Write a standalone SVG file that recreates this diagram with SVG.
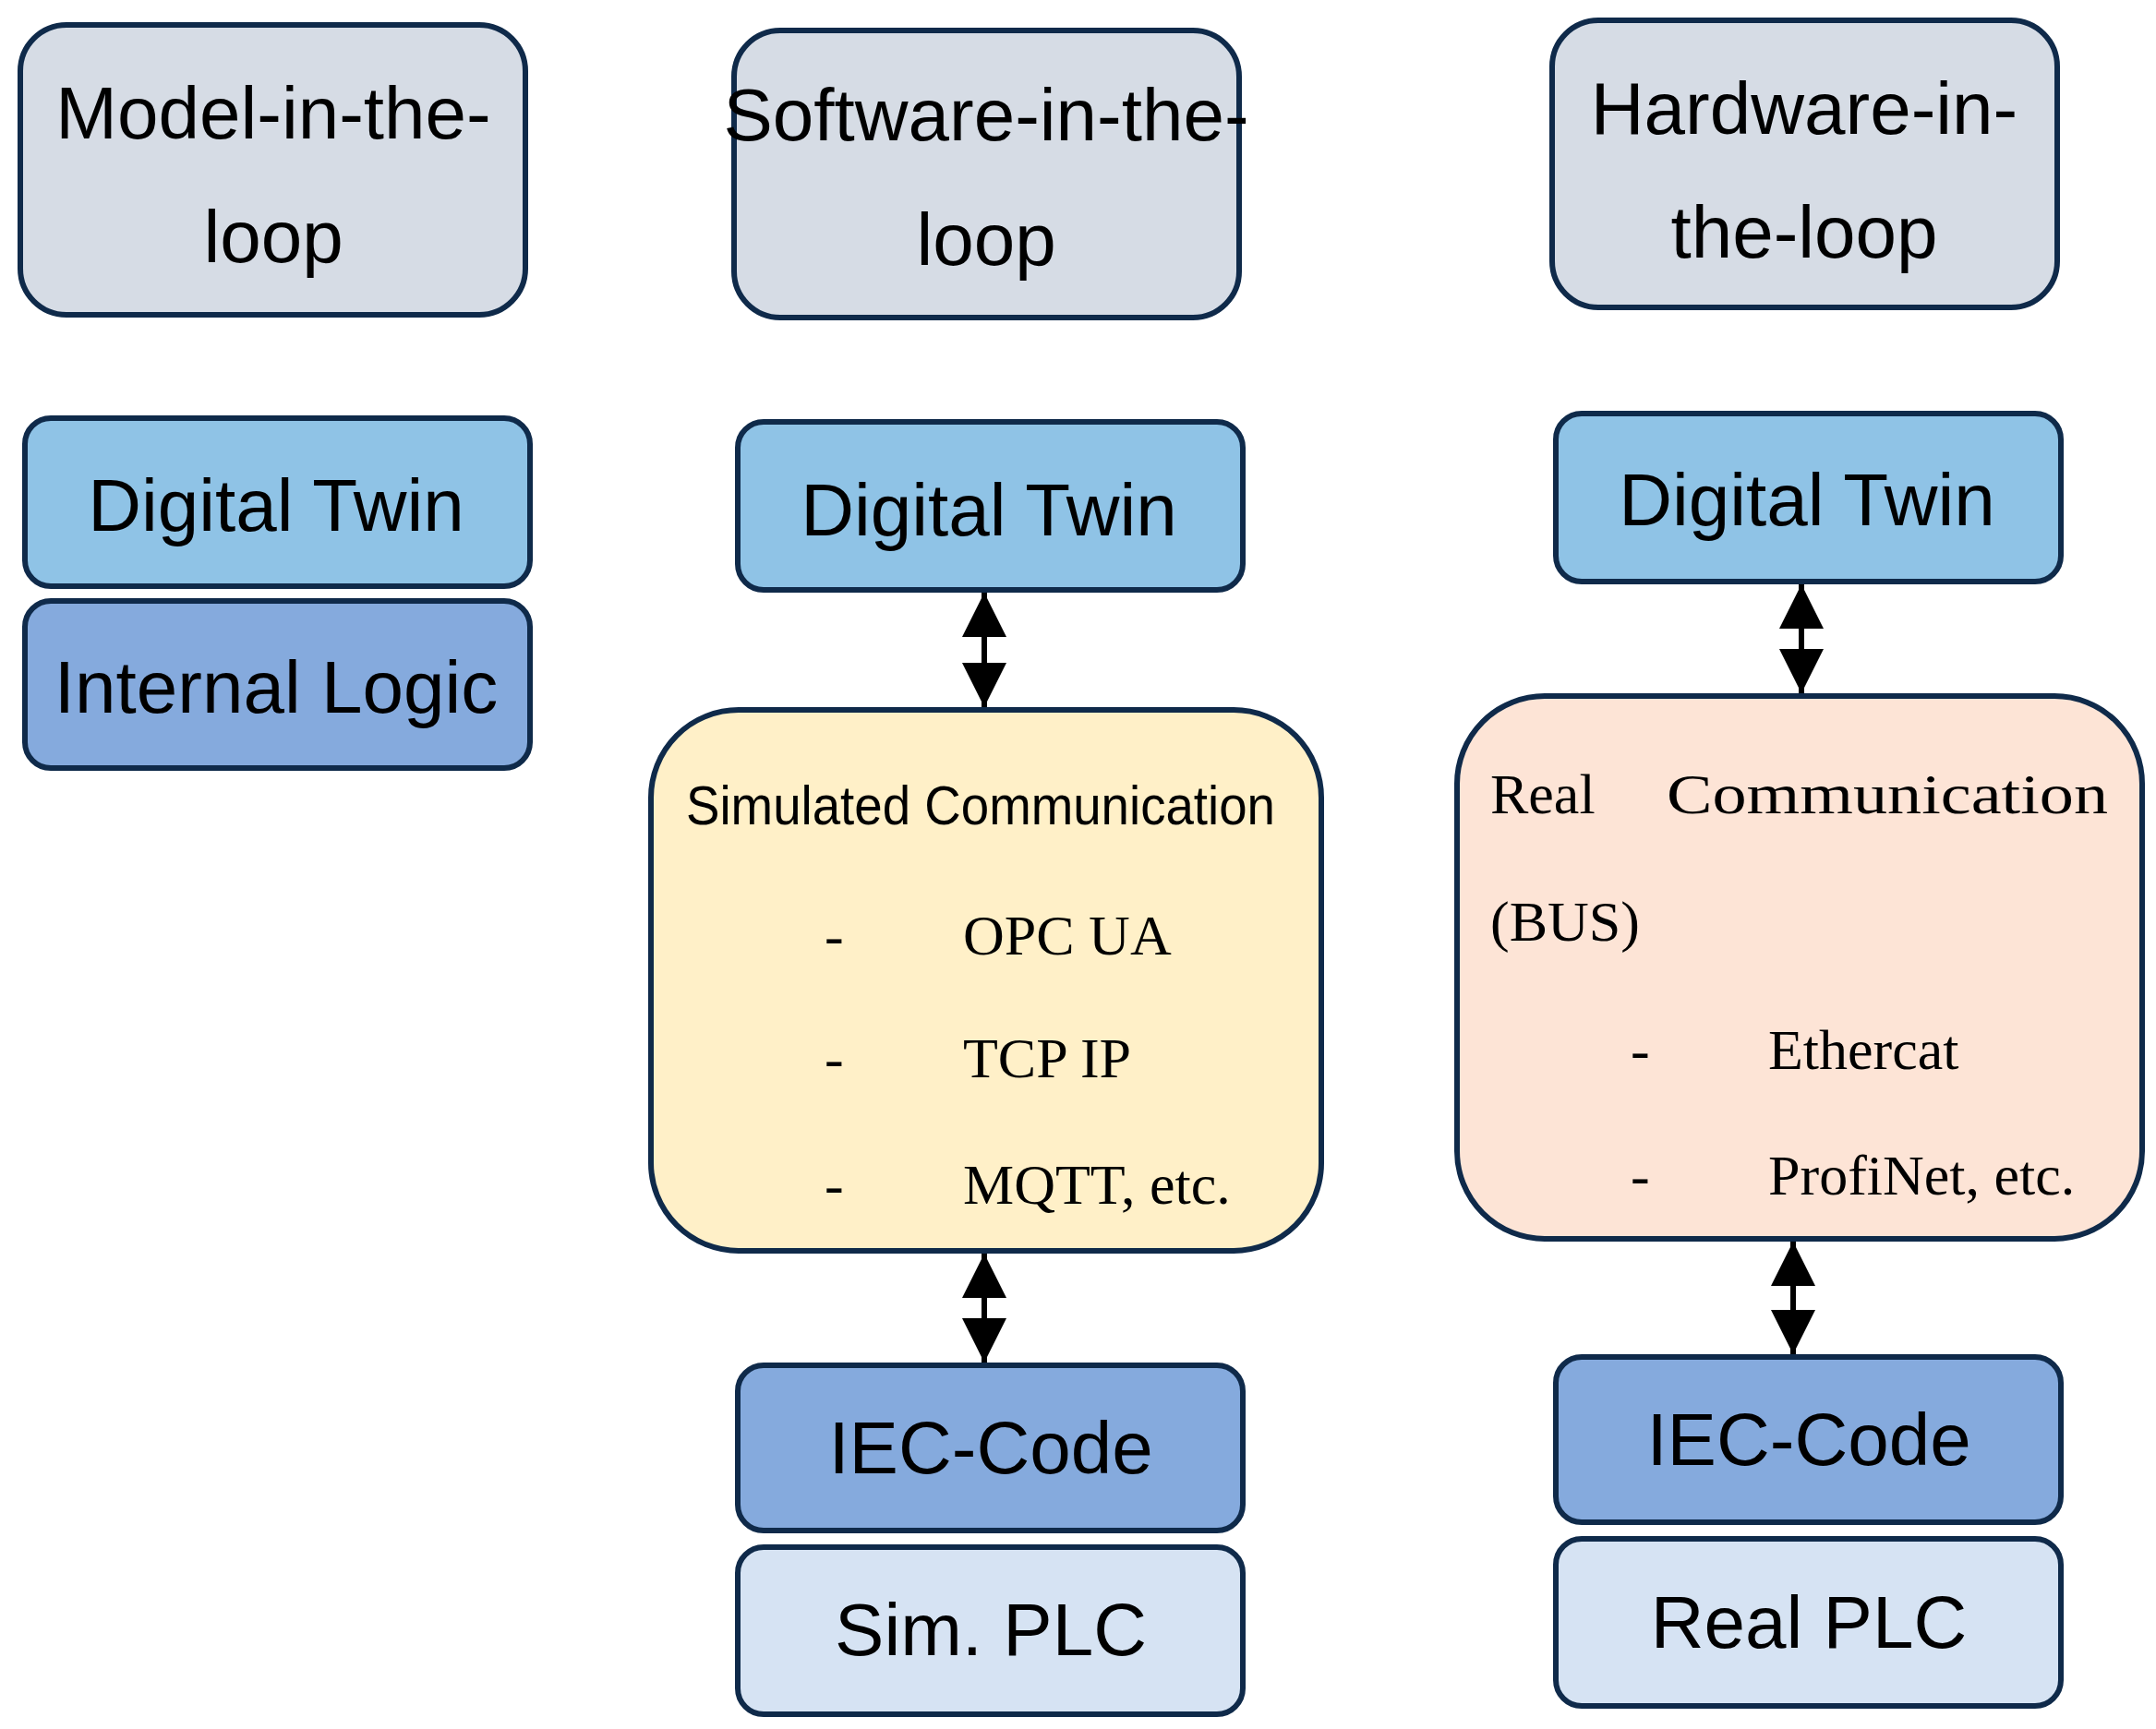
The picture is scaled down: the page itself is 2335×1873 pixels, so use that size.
<svg xmlns="http://www.w3.org/2000/svg" width="2335" height="1873" viewBox="0 0 2335 1873">
<style>
.b{stroke:#0F2A4A;stroke-width:6}
.t{font-family:"Liberation Sans Narrow","Liberation Sans",sans-serif;font-size:80px;fill:#000;text-anchor:middle}
.s{font-family:"Liberation Sans Narrow","Liberation Sans",sans-serif;font-size:60px;fill:#000}
.r{font-family:"Liberation Serif",serif;font-size:62px;fill:#000}
.c{stroke:#000;stroke-width:6;fill:none;marker-start:url(#a);marker-end:url(#a)}
</style>
<defs>
<marker id="a" viewBox="0 0 10 10" refX="10" refY="5" markerWidth="8" markerHeight="8" markerUnits="strokeWidth" orient="auto-start-reverse"><path d="M0,0L10,5L0,10z" fill="#000"/></marker>
</defs>
<rect width="2335" height="1873" fill="#fff"/>
<g id="mil"><rect class="b" x="22" y="27" width="547" height="314" rx="50" fill="#D6DCE5"/><text class="t" x="296" y="150">Model-in-the-</text><text class="t" x="296" y="284">loop</text></g>
<g id="sil"><rect class="b" x="795" y="33" width="547" height="311" rx="50" fill="#D6DCE5"/><text class="t" x="1068" y="152">Software-in-the-</text><text class="t" x="1068" y="287">loop</text></g>
<g id="hil"><rect class="b" x="1681" y="22" width="547" height="311" rx="50" fill="#D6DCE5"/><text class="t" x="1954" y="145">Hardware-in-</text><text class="t" x="1954" y="279">the-loop</text></g>
<g id="dt1"><rect class="b" x="27" y="453" width="547" height="182" rx="28" fill="#8FC3E6"/><text class="t" x="299" y="575">Digital Twin</text></g>
<g id="il"><rect class="b" x="27" y="651" width="547" height="181" rx="28" fill="#85AADD"/><text class="t" x="299" y="772">Internal Logic</text></g>
<g id="dt2"><rect class="b" x="799" y="457" width="547" height="182" rx="28" fill="#8FC3E6"/><text class="t" x="1071" y="580">Digital Twin</text></g>
<g id="simcomm"><rect class="b" x="705" y="769" width="726" height="586" rx="95" fill="#FFF0C8"/>
<text class="s" x="743" y="893" textLength="638" lengthAdjust="spacingAndGlyphs">Simulated Communication</text>
<text class="r" x="893" y="1034">-</text><text class="r" x="1043" y="1034">OPC UA</text>
<text class="r" x="893" y="1167">-</text><text class="r" x="1043" y="1167">TCP IP</text>
<text class="r" x="893" y="1304">-</text><text class="r" x="1043" y="1304">MQTT, etc.</text></g>
<g id="iec1"><rect class="b" x="799" y="1479" width="547" height="179" rx="28" fill="#85AADD"/><text class="t" x="1073" y="1596">IEC-Code</text></g>
<g id="simplc"><rect class="b" x="799" y="1676" width="547" height="181" rx="28" fill="#D6E3F3"/><text class="t" x="1073" y="1793">Sim. PLC</text></g>
<g id="dt3"><rect class="b" x="1685" y="448" width="547" height="182" rx="28" fill="#8FC3E6"/><text class="t" x="1957" y="569">Digital Twin</text></g>
<g id="realcomm"><rect class="b" x="1578" y="754" width="742" height="588" rx="95" fill="#FDE4D6"/>
<text class="r" x="1614" y="881">Real</text><text class="r" x="1805" y="881" textLength="478" lengthAdjust="spacingAndGlyphs">Communication</text>
<text class="r" x="1614" y="1019">(BUS)</text>
<text class="r" x="1766" y="1158">-</text><text class="r" x="1915" y="1158">Ethercat</text>
<text class="r" x="1766" y="1294">-</text><text class="r" x="1915" y="1294">ProfiNet, etc.</text></g>
<g id="iec2"><rect class="b" x="1685" y="1470" width="547" height="179" rx="28" fill="#85AADD"/><text class="t" x="1959" y="1587">IEC-Code</text></g>
<g id="realplc"><rect class="b" x="1685" y="1667" width="547" height="181" rx="28" fill="#D6E3F3"/><text class="t" x="1959" y="1785">Real PLC</text></g>
<g id="connectors">
<line class="c" x1="1066" y1="642" x2="1066" y2="766"/>
<line class="c" x1="1066" y1="1358" x2="1066" y2="1476"/>
<line class="c" x1="1951" y1="633" x2="1951" y2="751"/>
<line class="c" x1="1942" y1="1345" x2="1942" y2="1467"/>
</g>
</svg>
